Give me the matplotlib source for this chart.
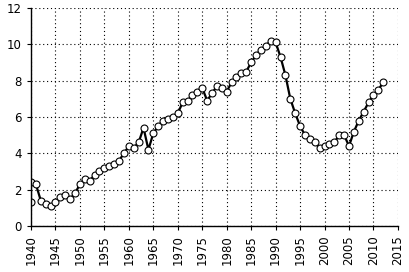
import numpy as np
import matplotlib
matplotlib.use("Agg")
import matplotlib.pyplot as plt

years = [1940, 1940, 1941, 1942, 1943, 1944, 1945, 1946, 1947, 1948, 1949,
         1950, 1951, 1952, 1953, 1954, 1955, 1956, 1957, 1958, 1959,
         1960, 1961, 1962, 1963, 1964, 1965, 1966, 1967, 1968, 1969,
         1970, 1971, 1972, 1973, 1974, 1975, 1976, 1977, 1978, 1979,
         1980, 1981, 1982, 1983, 1984, 1985, 1986, 1987, 1988, 1989,
         1990, 1991, 1992, 1993, 1994, 1995, 1996, 1997, 1998, 1999,
         2000, 2001, 2002, 2003, 2004, 2005, 2006, 2007, 2008, 2009,
         2010, 2011, 2012]
values = [1.3, 2.4, 2.3, 1.4, 1.2, 1.1, 1.3, 1.6, 1.7, 1.5, 1.8,
          2.3, 2.6, 2.5, 2.8, 3.0, 3.2, 3.3, 3.4, 3.6, 4.0,
          4.4, 4.3, 4.6, 5.4, 4.2, 5.1, 5.5, 5.8, 5.9, 6.0,
          6.2, 6.8, 6.9, 7.2, 7.4, 7.6, 6.9, 7.3, 7.7, 7.6,
          7.4, 7.9, 8.2, 8.4, 8.5, 9.0, 9.4, 9.7, 9.9, 10.2,
          10.1, 9.3, 8.3, 7.0, 6.2, 5.5, 5.0, 4.8, 4.6, 4.3,
          4.4, 4.5, 4.6, 5.0, 5.0, 4.4, 5.2, 5.8, 6.3, 6.8,
          7.2, 7.5, 7.9]

xticks = np.arange(1940, 2016, 5)
yticks = np.arange(0, 13, 2)

fig = plt.figure(figsize=(4.1, 2.72), dpi=100)
ax = fig.add_axes([0.0756, 0.169, 0.895, 0.802])

ax.plot(years, values, "-", color="black", lw=1.6,
        marker="o", ms=5, mfc="white", mec="black", mew=0.8)

ax.set_xlim(1940, 2015)
ax.set_ylim(0, 12)
ax.set_xticks(xticks)
ax.set_yticks(yticks)
ax.set_xticklabels([str(y) for y in xticks], rotation=90, fontsize=8.5)
ax.tick_params(axis="y", labelsize=8.5)
ax.tick_params(direction="out", length=3, width=0.8, color="black")
ax.grid(True, linestyle=(0, (1, 2.5)), color="black", lw=0.8)

ax.spines["top"].set_visible(False)
ax.spines["right"].set_visible(False)
ax.spines["left"].set_linewidth(1.0)
ax.spines["bottom"].set_linewidth(1.0)

fig.savefig("out.png", dpi=100)
